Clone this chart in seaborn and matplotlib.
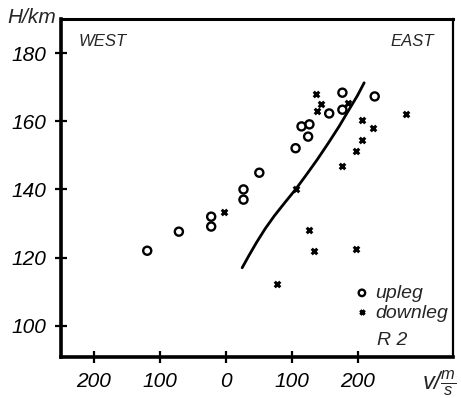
import matplotlib
matplotlib.use('Agg')
import matplotlib.pyplot as plt
import seaborn as sns
import pandas as pd

# Upleg points (v in m/s, west negative; H in km)
up_v = [-119, -71, -22, -22, 27, 27, 51, 106, 115, 127, 125, 157, 177, 177, 226]
up_h = [122, 127.6, 132, 129.1, 140, 137, 144.9, 152.1, 158.5, 159.1, 155.5, 162.3, 163.4, 168.4, 167.3]

# Downleg points
down_v = [-2, 106, 137, 144, 139, 185, 206, 224, 206, 197, 177, 274, 127, 134, 198, 78]
down_h = [133.4, 140, 167.9, 165.2, 163.1, 165.4, 160.3, 158.1, 154.6, 151.2, 146.8, 162.0, 128.1, 122.0, 122.5, 112.3]

# Mean curve
curve_v = [25, 35, 47, 60, 74, 90, 106, 122, 139, 156, 172, 187, 200, 210]
curve_h = [117, 120.5, 124.5, 128.5, 132.3, 136.2, 140, 144.2, 148.8, 153.7, 158.5, 163.4, 167.6, 171.3]

x_ticks = [-200, -100, 0, 100, 200]
x_tick_labels = ['200', '100', '0', '100', '200']
y_ticks = [100, 120, 140, 160, 180]

sns.set_style('ticks')
plt.rcParams['font.family'] = ['Liberation Sans', 'DejaVu Sans']
plt.rcParams['font.style'] = 'italic'
plt.rcParams['mathtext.fontset'] = 'custom'
plt.rcParams['mathtext.it'] = 'Liberation Sans:italic'
plt.rcParams['mathtext.rm'] = 'Liberation Sans:italic'

fig = plt.figure(figsize=(4.61, 3.98), dpi=100)
ax = fig.add_axes([0.132, 0.103, 0.851, 0.849])

up_df = pd.DataFrame({'v': up_v, 'H': up_h})
down_df = pd.DataFrame({'v': down_v, 'H': down_h})
curve_df = pd.DataFrame({'v': curve_v, 'H': curve_h})

sns.lineplot(data=curve_df, x='v', y='H', ax=ax, color='black', linewidth=2, sort=False)
sns.scatterplot(data=up_df, x='v', y='H', ax=ax, marker='o', s=34,
                facecolors='none', edgecolor='black', linewidth=1.7, label='upleg')
sns.scatterplot(data=down_df, x='v', y='H', ax=ax, marker='x', s=16,
                color='black', linewidth=2.2, label='downleg')

ax.set_xlim(-250, 345)
ax.set_ylim(90.8, 190)
ax.set_xticks(x_ticks)
ax.set_xticklabels(x_tick_labels)
ax.set_yticks(y_ticks)
ax.set_xlabel('')
ax.set_ylabel('')

ax.tick_params(direction='inout', length=9, width=1.6, colors='black', pad=6, labelsize=15)

for side in ['left', 'bottom']:
    ax.spines[side].set_linewidth(2.6)
ax.spines['top'].set_linewidth(2.2)
ax.spines['right'].set_linewidth(1.6)
for sp in ax.spines.values():
    sp.set_visible(True)
    sp.set_color('black')

ax.text(0.045, 0.935, 'WEST', transform=ax.transAxes, fontsize=12,
        ha='left', va='center')
ax.text(0.95, 0.935, 'EAST', transform=ax.transAxes, fontsize=12,
        ha='right', va='center')

leg = ax.legend(loc='upper left', bbox_to_anchor=(0.755, 0.215), frameon=False,
                borderaxespad=0, borderpad=0, handlelength=0.5, handletextpad=0.45,
                labelspacing=0.1, fontsize=14, markerscale=0.8)
ax.text(0.805, 0.05, 'R 2', transform=ax.transAxes, fontsize=14,
        ha='left', va='center')

fig.text(0.017, 0.955, 'H/km', fontsize=15, ha='left', va='center')
fig.text(0.915, 0.038, r'$v/\frac{m}{s}$', fontsize=17, ha='left', va='center')

fig.savefig('out.png', dpi=100)
